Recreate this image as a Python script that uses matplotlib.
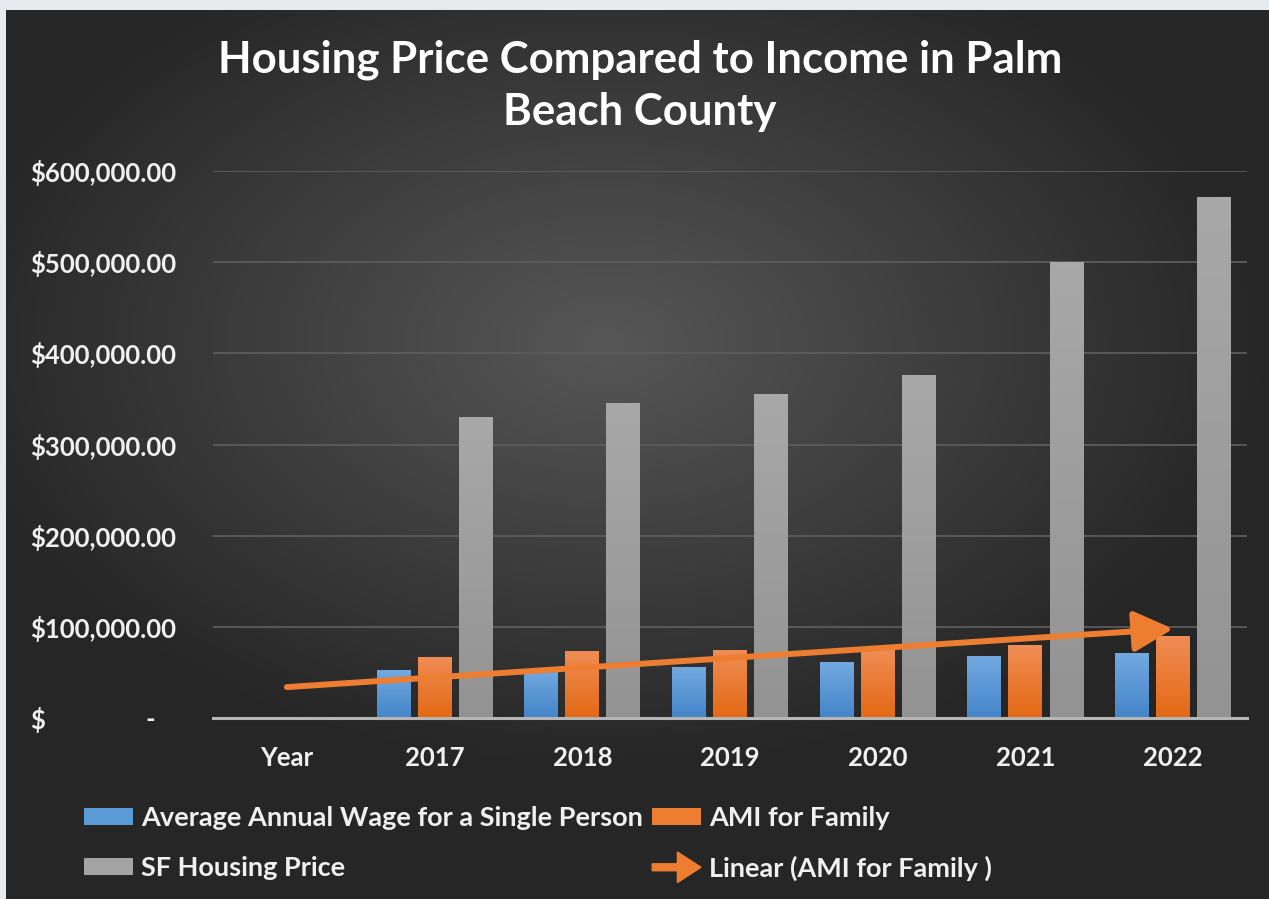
import matplotlib.pyplot as plt
import matplotlib.patches as mpatches
from matplotlib.colors import LinearSegmentedColormap
from matplotlib.legend_handler import HandlerBase
import numpy as np

categories = ["Year", "2017", "2018", "2019", "2020", "2021", "2022"]
wage_single = [0, 52500, 53000, 56000, 61400, 68000, 71000]
ami_family = [0, 67000, 73500, 74600, 76000, 80000, 90000]
sf_price = [0, 330000, 345000, 355000, 376000, 500000, 571000]
y_ticks = [0, 100000, 200000, 300000, 400000, 500000, 600000]

blue = "#5b9bd5"
orange = "#ed7d31"
gray = "#a3a3a3"
txt = "#f0f0f0"
font = ["Lato", "DejaVu Sans"]

plt.rcParams["font.family"] = font
plt.rcParams["font.weight"] = "bold"

W, H = 1269, 899
fig = plt.figure(figsize=(W / 100, H / 100), dpi=100)
fig.patch.set_facecolor("#e6e9ee")

# dark radial background panel
bg = fig.add_axes([6 / W, 0, (W - 6) / W, (H - 10) / H], zorder=-5)
gx, gy = np.meshgrid(np.linspace(-1, 1, 400), np.linspace(-1, 1, 300))
r = np.sqrt((gx + 0.05) ** 2 + ((gy + 0.25) * 1.1) ** 2)
shade = np.clip(0.34 - 0.18 * r, 0.15, 0.34)
bg.imshow(np.dstack([shade] * 3), aspect="auto", extent=[0, 1, 0, 1])
bg.set_axis_off()

ax = fig.add_axes([213 / W, (H - 718) / H, (1247 - 213) / W, (718 - 171) / H])
ax.patch.set_alpha(0)

x = np.arange(len(categories))
bw = 0.23
off = 0.278
b1 = ax.bar(x - off, wage_single, bw, color=blue, zorder=3)
b2 = ax.bar(x, ami_family, bw, color=orange, zorder=3)
b3 = ax.bar(x + off, sf_price, bw, color=gray, zorder=3)

# vertical gradient fill on each bar
grads = [(b1, ["#4485c9", "#72a9e0"]), (b2, ["#e36914", "#f08d55"]),
         (b3, ["#939393", "#a8a8a8"])]
ramp = np.linspace(0, 1, 100).reshape(-1, 1)
for cont, cols in grads:
    cmap = LinearSegmentedColormap.from_list("g", cols)
    for rect in cont:
        h = rect.get_height()
        if h <= 0:
            continue
        x0 = rect.get_x()
        im = ax.imshow(ramp, cmap=cmap, aspect="auto", origin="lower",
                       extent=[x0, x0 + rect.get_width(), 0, h], zorder=3.5)
        im.set_clip_path(rect)

# linear trend of AMI for Family
slope, icpt = np.polyfit(x, ami_family, 1)
trend = mpatches.FancyArrowPatch(
    (x[0], icpt + slope * x[0]), (x[-1], icpt + slope * x[-1]),
    arrowstyle=mpatches.ArrowStyle("-|>", head_length=24, head_width=12.5),
    mutation_scale=1, shrinkA=0, shrinkB=0, lw=4.3, color=orange,
    zorder=5)
ax.add_patch(trend)

ax.set_xlim(-0.5, len(categories) - 0.5)
ax.set_ylim(0, 600000)
ax.set_xticks(x)
ax.set_xticklabels(categories)
ax.yaxis.remove_overlapping_locs = False
ax.set_yticks(y_ticks)
ax.set_yticklabels(["$"] + [f"${v:,.2f}" for v in y_ticks[1:]])
ax.set_yticks([0], minor=True)
ax.set_yticklabels(["-"], minor=True)

ax.tick_params(axis="y", which="major", length=0, pad=131.5, labelsize=18.5, labelcolor=txt)
ax.tick_params(axis="y", which="minor", length=0, pad=42, labelsize=18.5, labelcolor=txt)
for lab in ax.get_yticklabels():
    lab.set_horizontalalignment("left")
ax.tick_params(axis="x", length=0, pad=20, labelsize=18.5, labelcolor=txt)

ax.grid(axis="y", color="#5c5c5c", lw=1.3, zorder=0)
for s in ["top", "right", "left"]:
    ax.spines[s].set_visible(False)
ax.spines["bottom"].set_color("#b5b5b5")
ax.spines["bottom"].set_linewidth(2.2)
ax.spines["bottom"].set_zorder(4)

fig.text(640 / W, 1 - 86 / H, "Housing Price Compared to Income in Palm\nBeach County",
         ha="center", va="center", fontsize=31.5, fontweight="bold", color="white",
         linespacing=1.35)


class ArrowHandler(HandlerBase):
    def create_artists(self, legend, orig_handle, xdescent, ydescent,
                       width, height, fontsize, trans):
        y = height / 2 - ydescent
        arr = mpatches.FancyArrow(-xdescent, y, width, 0, width=5, head_width=22,
                                  head_length=17, length_includes_head=True,
                                  color=orange, transform=trans)
        return [arr]


leg = fig.legend([b1, b3, b2, trend],
                 ["Average Annual Wage for a Single Person", "SF Housing Price",
                  "AMI for Family", "Linear (AMI for Family )"],
                 handler_map={mpatches.FancyArrowPatch: ArrowHandler()},
                 loc="upper left", bbox_to_anchor=(84 / W, 1 - 806 / H),
                 ncol=2, frameon=False, fontsize=19.5, labelcolor=txt,
                 handlelength=1.8, handleheight=0.6, handletextpad=0.3,
                 columnspacing=0.35, labelspacing=0.95, borderpad=0, borderaxespad=0)

fig.savefig("out.png", dpi=100, facecolor=fig.get_facecolor())
